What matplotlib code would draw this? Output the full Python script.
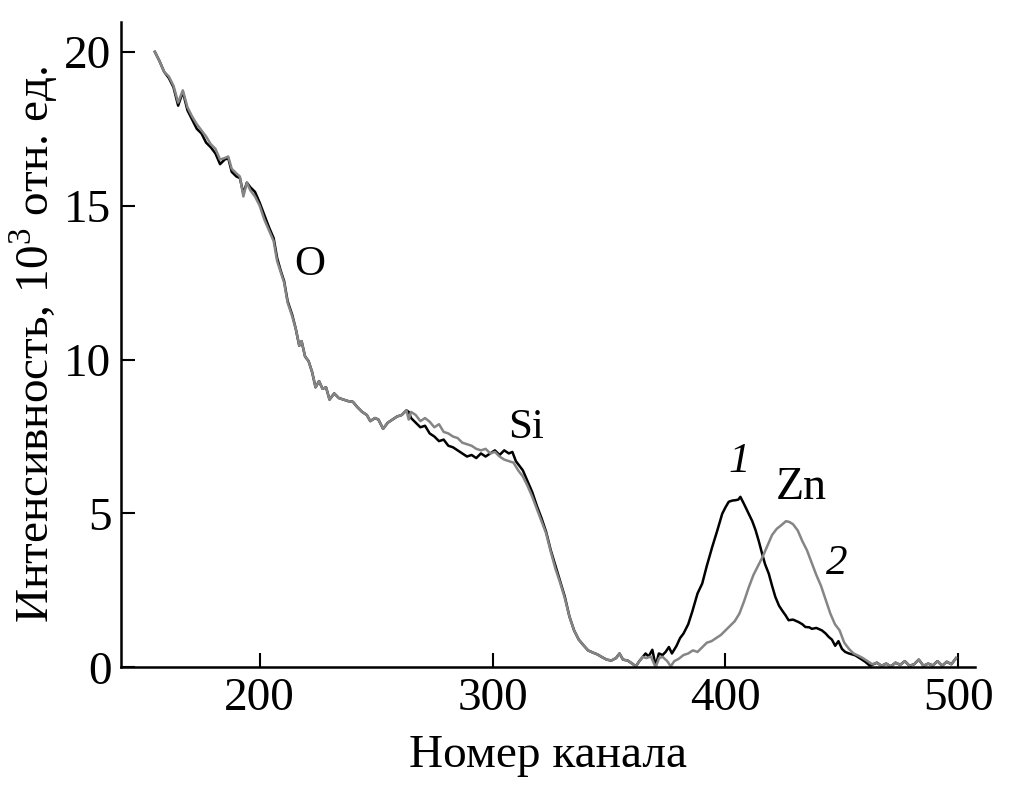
import numpy as np
import matplotlib.pyplot as plt

plt.rcParams['font.family'] = ['Liberation Serif', 'DejaVu Serif']
plt.rcParams['mathtext.fontset'] = 'custom'
plt.rcParams['mathtext.rm'] = 'Liberation Serif'

# Spectrum 2 (gray), channel number vs intensity, 10^3 rel. units
x2 = [155, 157, 159, 161, 163, 165, 167, 169, 171, 173, 175, 177, 179, 181, 183, 185,
      186.5, 188, 190, 191.5, 193, 194.5, 196, 198, 200, 202, 204, 206, 207.5, 209,
      210.5, 212, 214, 215.5, 217, 218, 219.5, 221, 222.5, 224, 225.5, 227, 228.5, 230,
      232, 234, 236, 238, 240, 242, 244, 246, 247.5, 249.5, 251, 253, 255, 257, 259,
      261, 263, 264, 265, 267, 269, 271, 273, 275, 277, 279, 281, 283, 285, 287, 289,
      291, 293, 295, 297, 299, 301, 303, 305, 307, 309, 311, 313, 315, 317, 319, 321,
      323, 325, 327, 329, 331, 333, 335, 337, 339, 341, 343, 345, 347, 349, 351, 353,
      354.5, 356, 358, 360, 361.5, 363, 364.5, 366, 368, 370, 371.5, 373, 375, 376.5,
      378, 380, 382, 384, 386, 388, 390, 392, 394, 396, 398, 400, 402, 404, 406, 408,
      410, 412, 414, 416, 418, 420, 422, 424, 426, 427.5, 429, 431, 433, 435, 437, 439,
      441, 443, 445, 447, 449, 451, 453, 455, 457, 459, 461, 463, 465, 467, 469, 471,
      473, 475, 477, 479, 481, 483, 485, 487, 489, 491, 493, 495, 497, 499]
y2 = [20.0, 19.7, 19.35, 19.2, 18.9, 18.35, 18.75, 18.2, 17.9, 17.65, 17.45, 17.25, 17.0,
      16.85, 16.5, 16.55, 16.6, 16.2, 16.05, 15.95, 15.3, 15.75, 15.5, 15.3, 15.0, 14.55,
      14.2, 13.85, 13.2, 12.85, 12.5, 11.85, 11.4, 11.0, 10.45, 10.6, 10.1, 9.95, 9.6,
      9.1, 9.3, 9.05, 9.1, 8.7, 8.9, 8.75, 8.7, 8.65, 8.63, 8.45, 8.3, 8.2, 8.0, 8.1,
      8.05, 7.75, 7.95, 8.05, 8.15, 8.2, 8.35, 8.05, 8.3, 8.2, 8.0, 8.1, 7.98, 7.8, 7.9,
      7.65, 7.6, 7.5, 7.45, 7.3, 7.25, 7.2, 7.1, 7.05, 7.1, 6.95, 7.0, 6.85, 6.75, 6.7,
      6.65, 6.4, 6.2, 5.9, 5.55, 5.15, 4.75, 4.35, 3.75, 3.2, 2.75, 2.25, 1.65, 1.2,
      0.9, 0.72, 0.55, 0.48, 0.42, 0.33, 0.25, 0.22, 0.3, 0.45, 0.25, 0.22, 0.12, 0.03,
      0.2, 0.34, 0.3, 0.35, 0.0, 0.3, 0.34, 0.2, 0.03, 0.2, 0.28, 0.4, 0.45, 0.55, 0.5,
      0.65, 0.8, 0.85, 0.95, 1.05, 1.2, 1.35, 1.5, 1.75, 2.15, 2.6, 3.0, 3.3, 3.6, 3.95,
      4.3, 4.5, 4.62, 4.75, 4.72, 4.65, 4.45, 4.1, 3.8, 3.4, 3.0, 2.65, 2.2, 1.75, 1.4,
      1.2, 0.8, 0.6, 0.45, 0.38, 0.3, 0.2, 0.1, 0.15, 0.05, 0.12, 0.03, 0.15, 0.08, 0.2,
      0.05, 0.1, 0.25, 0.05, 0.12, 0.06, 0.2, 0.05, 0.18, 0.1, 0.3]

# Spectrum 1 (black)
x1 = [155, 157, 159, 161, 163, 165, 167, 169, 171, 173, 175, 177, 179, 181, 183, 185,
      186.5, 188, 190, 191.5, 193, 194.5, 196, 198, 200, 202, 204, 206, 207.5, 209,
      210.5, 212, 214, 215.5, 217, 218, 219.5, 221, 222.5, 224, 225.5, 227, 228.5, 230,
      232, 234, 236, 238, 240, 242, 244, 246, 247.5, 249.5, 251, 253, 255, 257, 259,
      261, 263, 264, 265, 267, 269, 271, 273, 275, 277, 279, 281, 283, 285, 287, 289,
      291, 293, 295, 297, 299, 301, 303, 305, 307, 308.5, 310, 311.5, 313, 315, 317,
      319, 321, 323, 325, 327, 329, 331, 333, 335, 337, 339, 341, 343, 345, 347, 349,
      351, 353, 354.5, 356, 358, 360, 361.5, 363, 364.5, 365.7, 367, 368.6, 370, 371.4,
      373, 374.3, 375.7, 377, 379, 380.5, 382, 384, 385.7, 388, 390, 392, 394.3, 396.5,
      398.6, 400, 401.4, 403, 404.3, 405.5, 406.4, 408, 410, 411.5, 412.9, 414.3, 415.7,
      417, 418.6, 420, 421.4, 423, 424.3, 425.7, 427.1, 429, 431.4, 433, 434.3, 436,
      437.1, 439, 441.4, 443, 444.3, 445.7, 447.1, 448.5, 450, 451.4, 453, 455.7, 458,
      460, 462, 465, 467, 469, 471, 473, 475, 477, 479, 481, 483, 485, 487, 489, 491,
      493, 495, 497, 499]
y1 = [20.0, 19.7, 19.35, 19.15, 18.85, 18.25, 18.7, 18.1, 17.8, 17.5, 17.35, 17.05, 16.9,
      16.7, 16.35, 16.5, 16.55, 16.1, 15.95, 15.9, 15.4, 15.75, 15.6, 15.45, 15.1, 14.7,
      14.3, 13.95, 13.3, 12.9, 12.55, 11.9, 11.45, 11.0, 10.45, 10.6, 10.1, 9.95, 9.6,
      9.1, 9.3, 9.05, 9.1, 8.7, 8.9, 8.75, 8.7, 8.65, 8.63, 8.45, 8.3, 8.2, 8.0, 8.1,
      8.05, 7.75, 7.95, 8.05, 8.15, 8.2, 8.35, 8.3, 8.1, 7.95, 7.8, 7.85, 7.6, 7.5, 7.35,
      7.4, 7.2, 7.15, 7.05, 6.95, 6.85, 6.9, 6.8, 6.95, 6.85, 6.95, 7.05, 6.9, 7.05, 6.95,
      7.0, 6.7, 6.55, 6.4, 6.05, 5.7, 5.25, 4.85, 4.4, 3.8, 3.3, 2.8, 2.3, 1.65, 1.2,
      0.9, 0.72, 0.55, 0.48, 0.42, 0.33, 0.25, 0.22, 0.3, 0.45, 0.25, 0.22, 0.12, 0.03,
      0.2, 0.34, 0.45, 0.35, 0.57, 0.05, 0.45, 0.4, 0.5, 0.66, 0.45, 0.7, 0.95, 1.1, 1.4,
      1.8, 2.4, 2.72, 3.3, 3.91, 4.45, 4.99, 5.2, 5.38, 5.42, 5.43, 5.45, 5.54, 5.3, 4.99,
      4.75, 4.46, 4.1, 3.7, 3.35, 3.04, 2.65, 2.29, 2.0, 1.85, 1.7, 1.53, 1.55, 1.47, 1.4,
      1.31, 1.3, 1.25, 1.28, 1.2, 1.1, 0.99, 0.9, 0.7, 0.85, 0.6, 0.5, 0.45, 0.39, 0.28,
      0.18, 0.05, 0.15, 0.05, 0.12, 0.03, 0.15, 0.08, 0.2, 0.05, 0.1, 0.25, 0.05, 0.12,
      0.06, 0.2, 0.05, 0.18, 0.1, 0.3]

xticks = [200, 300, 400, 500]
yticks = [0, 5, 10, 15, 20]

fig = plt.figure(figsize=(10.09, 7.86), dpi=100)
ax = fig.add_axes([0.12, 0.151, 0.846, 0.821])

ax.plot(x1, y1, color='black', lw=1.8)
ax.plot(x2, y2, color='#858585', lw=1.8)

ax.set_xlim(140.5, 507)
ax.set_ylim(0, 20.97)
ax.set_xticks(xticks)
ax.set_yticks(yticks)
ax.tick_params(direction='in', length=10, width=1.5, labelsize=34, pad=7)
for s in ['top', 'right']:
    ax.spines[s].set_visible(False)
for s in ['left', 'bottom']:
    ax.spines[s].set_linewidth(1.8)

ax.set_xlabel('Номер канала', fontsize=34, labelpad=11)
ax.set_ylabel('Интенсивность, 10$^3$ отн. ед.', fontsize=34, labelpad=3)

# peak annotations
ax.text(221.4, 13.07, 'O', fontsize=31, ha='center', va='center')
ax.text(314.4, 7.77, 'Si', fontsize=31, ha='center', va='center')
ax.text(405.7, 6.67, '1', fontsize=31, style='italic', ha='center', va='center')
ax.text(432.7, 5.85, 'Zn', fontsize=33, ha='center', va='center')
ax.text(447.7, 3.38, '2', fontsize=31, style='italic', ha='center', va='center')

plt.savefig('out.png', dpi=100)
